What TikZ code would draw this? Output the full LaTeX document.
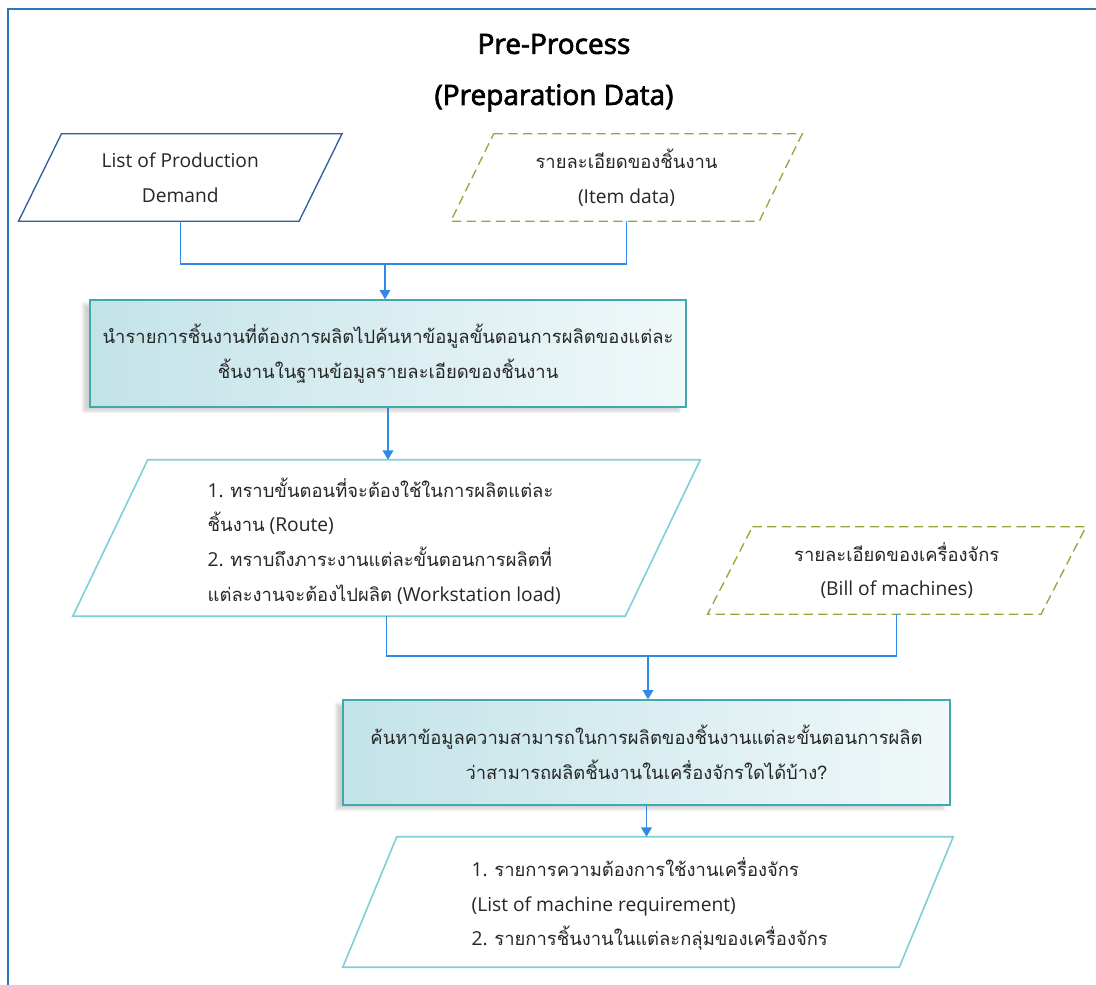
\documentclass[tikz,border=0pt]{standalone}
\usepackage{fontspec}
\setmainfont{Open Sans}
\newfontfamily\thaifont[Script=Thai,Scale=1.0]{Loma}
\newfontfamily\titlefont[FakeBold=2.5]{Open Sans}
\newcommand{\tx}[1]{{\thaifont\fontsize{13.8pt}{26pt}\selectfont #1}}
\usetikzlibrary{arrows.meta,shadows.blur}

\definecolor{frameblue}{HTML}{2E75B6}
\definecolor{darkblue}{HTML}{2F5E9C}
\definecolor{olive}{HTML}{8FAA3C}
\definecolor{linkblue}{HTML}{2E8AE6}
\definecolor{tealedge}{HTML}{3FA9AD}
\definecolor{tealfill}{HTML}{C3E3E8}
\definecolor{cyanedge}{HTML}{7FCFD8}
\definecolor{textgray}{HTML}{262626}

\tikzset{
  txt/.style={font=\fontsize{14.4pt}{26pt}\selectfont, text=textgray, align=center},
  heading/.style={font=\titlefont\fontsize{21pt}{24pt}\selectfont, text=black},
  holder/.style={inner sep=0pt},
  solidpar/.style={draw=darkblue, line width=1pt, fill=white},
  dashpar/.style={draw=olive, line width=1pt, dash pattern=on 7pt off 4pt, fill=white},
  lightpar/.style={draw=cyanedge, line width=1.2pt, fill=white},
  procbox/.style={draw=tealedge, line width=1pt, left color=tealfill, right color=tealfill!25!white,
    blur shadow={shadow xshift=-5pt, shadow yshift=-3pt, shadow blur steps=6, shadow opacity=18},
    inner sep=0pt},
  link/.style={draw=linkblue, line width=1.1pt},
  arrowlink/.style={link, -{Triangle[length=7pt,width=8pt]}},
}

% draw a parallelogram around a rectangular holder node (#1 = node, #2 = slant)
\newcommand{\parallelo}[3]{%
  \path[#3] ([xshift=#2/2]#1.north west) -- ([xshift=#2/2]#1.north east)
    -- ([xshift=-#2/2]#1.south east) -- ([xshift=-#2/2]#1.south west) -- cycle;}

\begin{document}
\begin{tikzpicture}[x=0.75pt,y=-0.75pt]
\useasboundingbox (0,0) rectangle (1096,985);

% outer frame (open towards right and bottom)
\draw[frameblue, line width=1.5pt] (8,990) -- (8,9) -- (1100,9);

% title
\node[heading] (title1) at (554,44) {Pre-Process};
\node[heading] (title2) at (554,98) {(Preparation Data)};

% input: production demand
\node[holder, minimum width=280*0.75pt, minimum height=87*0.75pt] (p1) at (180.25,177.5) {};
\parallelo{p1}{32.25pt}{solidpar}
\node[txt] (p1t) at (p1) {List of Production\\Demand};

% input: item data
\node[holder, minimum width=308*0.75pt, minimum height=87*0.75pt] (p2) at (626.5,177.5) {};
\parallelo{p2}{32.25pt}{dashpar}
\node[txt] (p2t) at (p2) {\tx{รายละเอียดของชิ้นงาน}\\(Item data)};

% process 1
\node[procbox, minimum width=596*0.75pt, minimum height=107*0.75pt] (b1) at (388,353.5) {};
\node[txt] (b1t) at (b1) {\tx{นำรายการชิ้นงานที่ต้องการผลิตไปค้นหาข้อมูลขั้นตอนการผลิตของแต่ละ}\\\tx{ชิ้นงานในฐานข้อมูลรายละเอียดของชิ้นงาน}};

% result 1
\node[holder, minimum width=552*0.75pt, minimum height=156*0.75pt] (p3) at (386.5,538) {};
\parallelo{p3}{56.25pt}{lightpar}
\node[txt, align=left, anchor=west] (p3t) at (203,541) {1. \tx{ทราบขั้นตอนที่จะต้องใช้ในการผลิตแต่ละ}\\\tx{ชิ้นงาน} (Route)\\2. \tx{ทราบถึงภาระงานแต่ละขั้นตอนการผลิตที่}\\\tx{แต่ละงานจะต้องไปผลิต} (Workstation load)};

% input: bill of machines
\node[holder, minimum width=333*0.75pt, minimum height=87*0.75pt] (p4) at (896.75,570.5) {};
\parallelo{p4}{33.75pt}{dashpar}
\node[txt] (p4t) at (p4) {\tx{รายละเอียดของเครื่องจักร}\\(Bill of machines)};

% process 2
\node[procbox, minimum width=607*0.75pt, minimum height=105*0.75pt] (b2) at (646.5,752.5) {};
\node[txt] (b2t) at (b2) {\tx{ค้นหาข้อมูลความสามารถในการผลิตของชิ้นงานแต่ละขั้นตอนการผลิต}\\\tx{ว่าสามารถผลิตชิ้นงานในเครื่องจักรใดได้บ้าง?}};

% result 2
\node[holder, minimum width=556*0.75pt, minimum height=130*0.75pt] (p5) at (648,902) {};
\parallelo{p5}{40.5pt}{lightpar}
\node[txt, align=left, anchor=west] (p5t) at (467,904) {1. \tx{รายการความต้องการใช้งานเครื่องจักร}\\(List of machine requirement)\\2. \tx{รายการชิ้นงานในแต่ละกลุ่มของเครื่องจักร}};

% connectors
\coordinate (j1) at (385,264);
\draw[link] (p1.south) -- (p1.south |- j1) -- (p2.south |- j1) -- (p2.south);
\draw[arrowlink] (j1) -- (j1 |- b1.north);
\draw[arrowlink] (b1.south) -- (b1.south |- p3.north);
\coordinate (j2) at (648,656);
\draw[link] (p3.south) -- (p3.south |- j2) -- (p4.south |- j2) -- (p4.south);
\draw[arrowlink] (j2) -- (j2 |- b2.north);
\draw[arrowlink] (b2.south) -- (b2.south |- p5.north);
\end{tikzpicture}
\end{document}
